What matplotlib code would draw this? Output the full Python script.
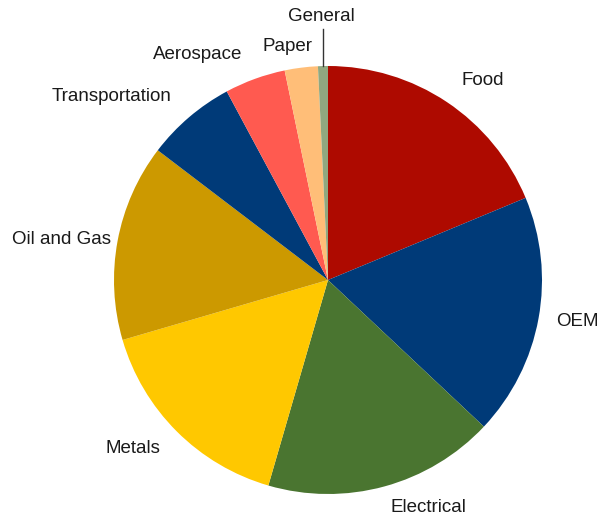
import numpy as np
import matplotlib
matplotlib.use("Agg")
from matplotlib import pyplot as plt

# ==============================================
# Data (share of sales, %)
# ==============================================
sectors = ["Food", "OEM", "Electrical", "Metals", "Oil and Gas",
           "Transportation", "Aerospace", "Paper", "General"]
shares = [18.75, 18.3, 17.5, 16.0, 14.9, 6.8, 4.6, 2.5, 0.75]
colors = ["#AE0A00", "#003A78", "#4A7530", "#FFC800", "#CC9900",
          "#003A78", "#FF5A50", "#FFBE78", "#90A880"]

# label placement: distance from centre (in radii), alignment, small x nudge (px)
label_dist = [1.12, 1.085, 1.10, 1.11, 1.03, 1.125, 1.12, 1.10, 1.23]
label_ha = ["left", "left", "left", "right", "right",
            "right", "right", "right", "center"]
label_nudge = [0, 0, 0, 0, 0, 0, -4, 14, 0]

# ==============================================
# Plot
# ==============================================
W, H = 613, 521
cx, cy, R = 328, H - 280, 214

fig = plt.figure(figsize=(W / 100, H / 100), dpi=100)
ax = fig.add_axes([0, 0, 1, 1])

wedges, _ = ax.pie(shares, colors=colors, startangle=90, counterclock=False,
                   center=(cx, cy), radius=R,
                   wedgeprops=dict(linewidth=0))
ax.set_xlim(0, W)
ax.set_ylim(0, H)
ax.set_aspect("equal")
ax.axis("off")

for w, name, d, ha, nx in zip(wedges, sectors, label_dist, label_ha, label_nudge):
    mid = np.deg2rad((w.theta1 + w.theta2) / 2)
    x = cx + R * d * np.cos(mid) + nx
    y = cy + R * d * np.sin(mid)
    if name == "General":
        # leader line from slice edge up to the label
        ex = cx + R * np.cos(mid)
        ey = cy + R * np.sin(mid)
        ax.plot([ex, ex], [ey, y - 12], color="#333333", lw=1)
    ax.text(x, y, name, ha=ha, va="center", fontsize=13.5,
            family="Liberation Sans", color="#1a1a1a")

fig.savefig("out.png", dpi=100)
